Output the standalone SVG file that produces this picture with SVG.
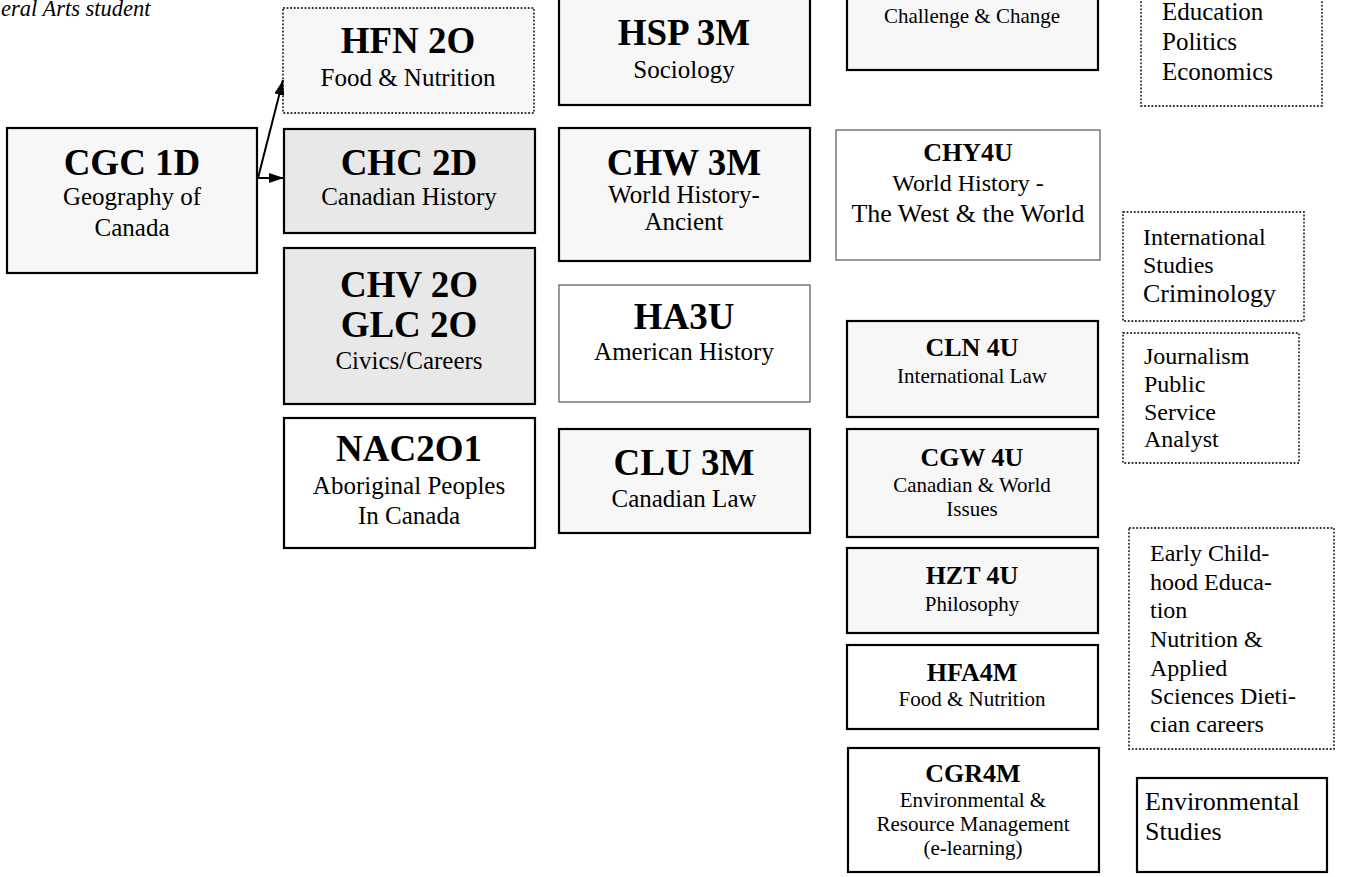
<svg xmlns="http://www.w3.org/2000/svg" width="1350" height="877" viewBox="0 0 1350 877">
<style>
text{font-family:"Liberation Serif","Times New Roman",serif;fill:#000}
.c{text-anchor:middle}
.t{font-weight:bold;font-size:37px}
.s{font-size:25px}
.ts{font-weight:bold;font-size:26px}
.ss{font-size:21px}
.solid{stroke:#000;stroke-width:2.2}
.thin{stroke:#555;stroke-width:1.2}
.dot{stroke:#333;stroke-width:1.8;stroke-dasharray:1.8 1.8}
.lt{fill:#f7f7f7}
.gr{fill:#e8e8e8}
.wh{fill:#fff}
.conn{stroke:#000;stroke-width:2;fill:none}
</style>
<defs>
<marker id="ah" viewBox="0 0 15 10" refX="15" refY="5" markerWidth="15" markerHeight="10" markerUnits="userSpaceOnUse" orient="auto">
<path d="M0,0 L15,5 L0,10 z" fill="#000"/>
</marker>
</defs>
<rect width="1350" height="877" fill="#fff"/>
<text x="1" y="16" style="font-style:italic;font-size:22.5px">eral Arts student</text>

<g id="cgc1d"><rect class="solid lt" x="7" y="128" width="250" height="145"/>
<text class="c t" x="132" y="175">CGC 1D</text><text class="c s" x="132" y="205">Geography of</text><text class="c s" x="132" y="236">Canada</text></g>

<g id="hfn2o"><rect class="dot lt" x="283" y="8" width="251" height="105"/>
<text class="c t" x="408" y="53">HFN 2O</text><text class="c s" x="408" y="86">Food &amp; Nutrition</text></g>

<g id="chc2d"><rect class="solid gr" x="284" y="129" width="251" height="104"/>
<text class="c t" x="409" y="175">CHC 2D</text><text class="c s" x="409" y="205">Canadian History</text></g>

<g id="chv2o"><rect class="solid gr" x="284" y="248" width="251" height="156"/>
<text class="c t" x="409" y="297">CHV 2O</text><text class="c t" x="409" y="337">GLC 2O</text><text class="c s" x="409" y="369">Civics/Careers</text></g>

<g id="nac2o1"><rect class="solid wh" x="284" y="418" width="251" height="130"/>
<text class="c t" x="409" y="461">NAC2O1</text><text class="c s" x="409" y="494">Aboriginal Peoples</text><text class="c s" x="409" y="524">In Canada</text></g>

<g id="hsp3m"><rect class="solid lt" x="559" y="-5" width="251" height="110"/>
<text class="c t" x="684" y="45">HSP 3M</text><text class="c s" x="684" y="78">Sociology</text></g>

<g id="chw3m"><rect class="solid lt" x="559" y="128" width="251" height="133"/>
<text class="c t" x="684" y="175">CHW 3M</text><text class="c s" x="684" y="203">World History-</text><text class="c s" x="684" y="230">Ancient</text></g>

<g id="ha3u"><rect class="thin wh" x="559" y="285" width="251" height="117"/>
<text class="c t" x="684" y="329">HA3U</text><text class="c s" x="684" y="360">American History</text></g>

<g id="clu3m"><rect class="solid lt" x="559" y="429" width="251" height="104"/>
<text class="c t" x="684" y="475">CLU 3M</text><text class="c s" x="684" y="507">Canadian Law</text></g>

<g id="challenge"><rect class="solid lt" x="847" y="-5" width="251" height="75"/>
<text class="c ss" x="972" y="23">Challenge &amp; Change</text></g>

<g id="chy4u"><rect class="thin wh" x="836" y="130" width="264" height="130"/>
<text class="c" x="968" y="161" style="font-weight:bold;font-size:26px">CHY4U</text><text class="c" x="968" y="191" style="font-size:24px">World History -</text><text class="c" x="968" y="222" style="font-size:26px">The West &amp; the World</text></g>

<g id="cln4u"><rect class="solid lt" x="847" y="321" width="251" height="96"/>
<text class="c ts" x="972" y="356">CLN 4U</text><text class="c ss" x="972" y="383">International Law</text></g>

<g id="cgw4u"><rect class="solid lt" x="847" y="429" width="251" height="108"/>
<text class="c ts" x="972" y="466">CGW 4U</text><text class="c ss" x="972" y="492">Canadian &amp; World</text><text class="c ss" x="972" y="516">Issues</text></g>

<g id="hzt4u"><rect class="solid lt" x="847" y="548" width="251" height="85"/>
<text class="c ts" x="972" y="584">HZT 4U</text><text class="c ss" x="972" y="611">Philosophy</text></g>

<g id="hfa4m"><rect class="solid wh" x="847" y="645" width="251" height="84"/>
<text class="c ts" x="972" y="681">HFA4M</text><text class="c ss" x="972" y="706">Food &amp; Nutrition</text></g>

<g id="cgr4m"><rect class="solid wh" x="848" y="748" width="251" height="124"/>
<text class="c ts" x="973" y="782">CGR4M</text><text class="c ss" x="973" y="807">Environmental &amp;</text><text class="c ss" x="973" y="831">Resource Management</text><text class="c ss" x="973" y="855">(e-learning)</text></g>

<g id="education"><rect class="dot wh" x="1141" y="-5" width="181" height="111"/>
<text x="1162" y="20" style="font-size:25px">Education</text><text x="1162" y="50" style="font-size:25px">Politics</text><text x="1162" y="80" style="font-size:25px">Economics</text></g>

<g id="international"><rect class="dot wh" x="1123" y="212" width="181" height="109"/>
<text x="1143" y="245" style="font-size:24px">International</text><text x="1143" y="273" style="font-size:24px">Studies</text><text x="1143" y="302" style="font-size:26px">Criminology</text></g>

<g id="journalism"><rect class="dot wh" x="1123" y="333" width="176" height="130"/>
<text x="1144" y="364" style="font-size:24px">Journalism</text><text x="1144" y="392" style="font-size:24px">Public</text><text x="1144" y="420" style="font-size:24px">Service</text><text x="1144" y="447" style="font-size:24px">Analyst</text></g>

<g id="earlychildhood"><rect class="dot wh" x="1129" y="528" width="205" height="221"/>
<text x="1150" y="561" style="font-size:24px">Early Child-</text><text x="1150" y="590" style="font-size:24px">hood Educa-</text><text x="1150" y="618" style="font-size:24px">tion</text><text x="1150" y="647" style="font-size:24px">Nutrition &amp;</text><text x="1150" y="676" style="font-size:24px">Applied</text><text x="1150" y="704" style="font-size:24px">Sciences Dieti-</text><text x="1150" y="732" style="font-size:24px">cian careers</text></g>

<g id="envstudies"><rect class="solid wh" x="1137" y="778" width="190" height="94"/>
<text x="1145" y="810" style="font-size:26px">Environmental</text><text x="1145" y="840" style="font-size:26px">Studies</text></g>

<g id="connectors">
<line class="conn" x1="258" y1="178" x2="283" y2="80" marker-end="url(#ah)"/>
<line class="conn" x1="258" y1="178" x2="284" y2="178" marker-end="url(#ah)"/>
</g>
</svg>
